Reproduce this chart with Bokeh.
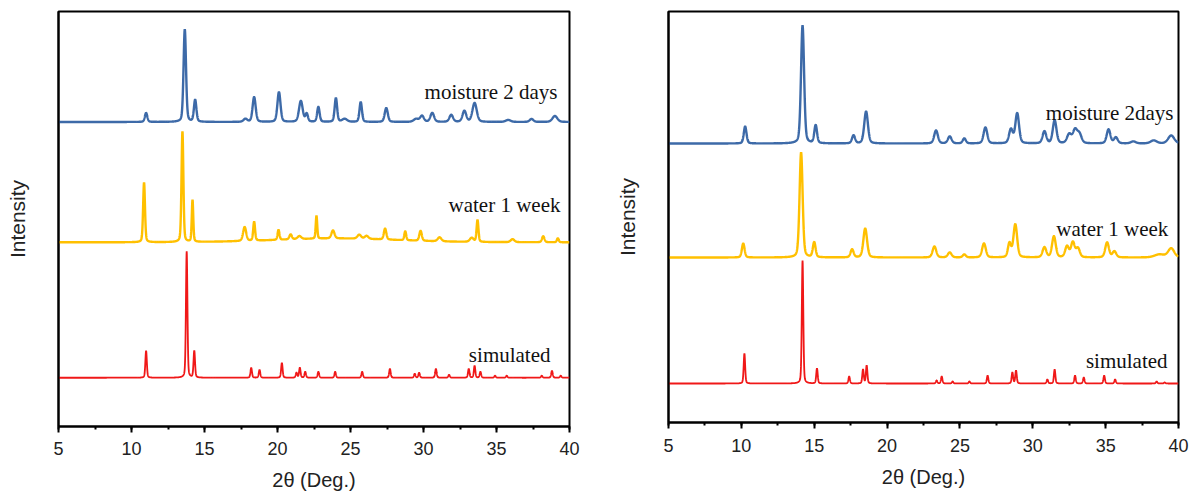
import numpy as np
from jinja2 import Template
from bokeh.plotting import figure
from bokeh.models import Range1d, SingleIntervalTicker, FixedTicker, ColumnDataSource
from bokeh.embed import file_html
from bokeh.resources import INLINE
from bokeh.core.properties import value

# ---------------- data ----------------
x_min, x_max = 5, 40
x_tick_interval = 5
x_title = "2θ (Deg.)"
y_title = "Intensity"

# Left panel: vertical offsets (baselines) and peak lists (2theta, height, FWHM)
L_labels = ["moisture 2 days", "water 1 week", "simulated"]
L_base = [306, 185, 49]
L_moist_pos = [11.0, 13.65, 14.36, 17.8, 18.4, 20.1, 21.6, 22.0, 22.8, 24.0, 24.6, 25.7,
               27.45, 29.5, 29.9, 30.6, 31.9, 32.8, 33.5, 35.8, 37.4, 39.0]
L_moist_h = [9, 93, 22, 3, 25, 30, 21, 8, 15, 24, 3, 20, 14, 3, 6, 9, 7, 11, 19, 2, 3, 6]
L_moist_w = [0.2, 0.2, 0.2, 0.3, 0.25, 0.25, 0.3, 0.2, 0.2, 0.2, 0.4, 0.2,
             0.25, 0.4, 0.3, 0.3, 0.3, 0.3, 0.35, 0.4, 0.3, 0.4]
L_water_pos = [10.86, 13.49, 14.18, 17.75, 18.4, 20.07, 20.9, 21.5, 22.67, 23.8, 25.6, 26.1,
               27.37, 28.75, 29.8, 31.1, 33.3, 33.7, 36.1, 38.2, 39.2, 24.0]
L_water_h = [60, 111, 42, 14, 19, 10, 5, 3, 23, 8, 4, 3, 11, 9, 10, 4, 4, 22, 3, 6, 4, 4]
L_water_w = [0.15, 0.15, 0.12, 0.25, 0.15, 0.15, 0.2, 0.3, 0.12, 0.25, 0.3, 0.3,
             0.2, 0.15, 0.2, 0.3, 0.3, 0.15, 0.3, 0.2, 0.15, 10.0]
L_sim_pos = [11.0, 13.78, 14.3, 18.2, 18.77, 20.3, 21.3, 21.53, 21.9, 22.8, 23.95, 25.8,
             27.7, 29.4, 29.7, 30.85, 31.75, 33.1, 33.5, 33.9, 34.9, 35.7, 38.1, 38.8, 39.4]
L_sim_h = [27, 127, 27, 10, 8, 15, 5, 10, 6, 6, 6, 6, 9, 4, 5, 9, 3, 9, 12, 6, 2, 2, 2, 7, 2]
L_sim_w = [0.12] * 25

# Right panel
R_labels = ["moisture 2days", "water 1 week", "simulated"]
R_base = [279, 165, 39]
R_moist_pos = [10.26, 14.2, 15.1, 17.7, 18.56, 23.36, 24.3, 25.3, 26.75, 28.5, 28.93,
               30.8, 31.5, 32.5, 32.9, 33.2, 35.2, 35.7, 36.9, 38.3, 39.5]
R_moist_h = [17, 118, 18, 8, 32, 13, 7, 5, 16, 14, 30, 12, 23, 9, 13, 9, 14, 6, 2, 3, 8]
R_moist_w = [0.22, 0.25, 0.22, 0.25, 0.3, 0.3, 0.3, 0.25, 0.3, 0.3, 0.3,
             0.3, 0.3, 0.35, 0.35, 0.35, 0.3, 0.3, 0.4, 0.5, 0.5]
R_water_pos = [10.13, 14.1, 15.0, 17.6, 18.5, 23.25, 24.3, 25.3, 26.65, 28.4, 28.8,
               30.8, 31.45, 32.35, 32.75, 33.1, 35.1, 35.6, 38.7, 39.5]
R_water_h = [14, 105, 15, 8, 29, 11, 5, 3, 14, 14, 33, 10, 21, 11, 15, 9, 15, 6, 3, 9]
R_water_w = [0.22, 0.25, 0.22, 0.25, 0.3, 0.3, 0.3, 0.25, 0.3, 0.25, 0.3,
             0.3, 0.3, 0.3, 0.3, 0.3, 0.3, 0.3, 0.8, 0.5]
R_sim_pos = [10.21, 14.2, 15.19, 17.4, 18.35, 18.6, 23.4, 23.75, 24.5, 25.65, 26.9,
             28.6, 28.85, 31.0, 31.5, 32.9, 33.5, 34.9, 35.65, 38.5, 39.05]
R_sim_h = [30, 123, 15, 7, 14, 18, 3, 7, 2, 2, 8, 11, 13, 4, 14, 8, 6, 8, 4, 2, 1]
R_sim_w = [0.12] * 21

BLUE = "#3D6AA8"
GOLD = "#FFC000"
RED = "#F01818"


def pattern(x, base, pos, h, w):
    y = np.full_like(x, float(base))
    for c, a, f in zip(pos, h, w):
        d = (x - c) / f
        g = np.exp(-4 * np.log(2) * d ** 2)
        lz = 1.0 / (1.0 + 4 * d ** 2)
        y += a * (0.7 * g + 0.3 * lz)
    return y


x = np.linspace(x_min, x_max, 3501)


def make_panel(width, height, left, right, top, bottom, yspan, series, labels, label_pos,
               tick_standoff, xlab_standoff, ylab_standoff):
    p = figure(width=width, height=height, output_backend="svg", toolbar_location=None,
               x_range=Range1d(x_min, x_max), y_range=Range1d(0, yspan),
               min_border_left=left, min_border_right=right,
               min_border_top=top, min_border_bottom=bottom)
    p.xgrid.visible = False
    p.ygrid.visible = False
    p.outline_line_color = "black"
    p.outline_line_width = 2
    p.outline_line_alpha = 1
    p.background_fill_color = "white"
    p.border_fill_color = "white"

    p.xaxis.ticker = SingleIntervalTicker(interval=x_tick_interval, num_minor_ticks=2)
    p.xaxis.axis_label = x_title
    p.xaxis.axis_label_text_font = "Liberation Sans"
    p.xaxis.axis_label_text_font_style = "normal"
    p.xaxis.axis_label_text_font_size = "20px"
    p.xaxis.axis_label_text_color = "#222222"
    p.xaxis.axis_label_standoff = xlab_standoff
    p.xaxis.major_label_text_font = "Liberation Sans"
    p.xaxis.major_label_text_font_size = "18px"
    p.xaxis.major_label_text_color = "#222222"
    p.xaxis.major_label_standoff = tick_standoff
    p.xaxis.major_tick_in = 0
    p.xaxis.major_tick_out = 6
    p.xaxis.minor_tick_in = 0
    p.xaxis.minor_tick_out = 3
    p.xaxis.axis_line_width = 2
    p.xaxis.major_tick_line_width = 2
    p.xaxis.minor_tick_line_width = 2

    p.yaxis.ticker = FixedTicker(ticks=[])
    p.yaxis.axis_label = y_title
    p.yaxis.axis_label_text_font = "Liberation Sans"
    p.yaxis.axis_label_text_font_style = "normal"
    p.yaxis.axis_label_text_font_size = "21px"
    p.yaxis.axis_label_text_color = "#222222"
    p.yaxis.axis_label_standoff = ylab_standoff
    p.yaxis.major_label_standoff = 0
    p.yaxis.major_tick_line_color = None
    p.yaxis.minor_tick_line_color = None
    p.yaxis.major_tick_out = 0
    p.yaxis.axis_line_width = 2

    for (base, pos, h, w, col, lw) in series:
        y = pattern(x, base, pos, h, w)
        p.line(x, y, line_color=col, line_width=lw)

    src = ColumnDataSource(dict(x=[lp[0] for lp in label_pos],
                                y=[lp[1] for lp in label_pos], t=labels))
    p.text(x="x", y="y", text="t", source=src, text_align="right", text_baseline="middle",
           text_font=value("Liberation Serif"), text_font_size="21px", text_color="#111111")
    return p


left_series = [
    (L_base[0], L_moist_pos, L_moist_h, L_moist_w, BLUE, 2.4),
    (L_base[1], L_water_pos, L_water_h, L_water_w, GOLD, 2.4),
    (L_base[2], L_sim_pos, L_sim_h, L_sim_w, RED, 1.8),
]
right_series = [
    (R_base[0], R_moist_pos, R_moist_h, R_moist_w, BLUE, 2.4),
    (R_base[1], R_water_pos, R_water_h, R_water_w, GOLD, 2.4),
    (R_base[2], R_sim_pos, R_sim_h, R_sim_w, RED, 1.8),
]

p1 = make_panel(600, 493, 58, 31, 11, 65, 417, left_series, L_labels,
                [(39.18, 336), (39.38, 223), (38.7, 72)], 9, 11, 30)
p2 = make_panel(592, 493, 68, 14, 11, 71, 411, right_series, R_labels,
                [(39.66, 310), (39.3, 194), (39.25, 62)], 10, 11, 30)

# two independent roots side by side (no frame alignment between them)
page = Template("""{% extends base %}
{% block contents %}
<div style="display:flex;flex-direction:row;align-items:flex-start;margin:0;padding:0;">
{% for doc in docs %}
{{ embed(doc) if doc.elementid }}
{% for root in doc.roots %}
<div style="flex:none;">{{ embed(root) }}</div>
{% endfor %}
{% endfor %}
</div>
{% endblock %}
""")

open("out.html", "w").write(file_html([p1, p2], INLINE, template=page))
